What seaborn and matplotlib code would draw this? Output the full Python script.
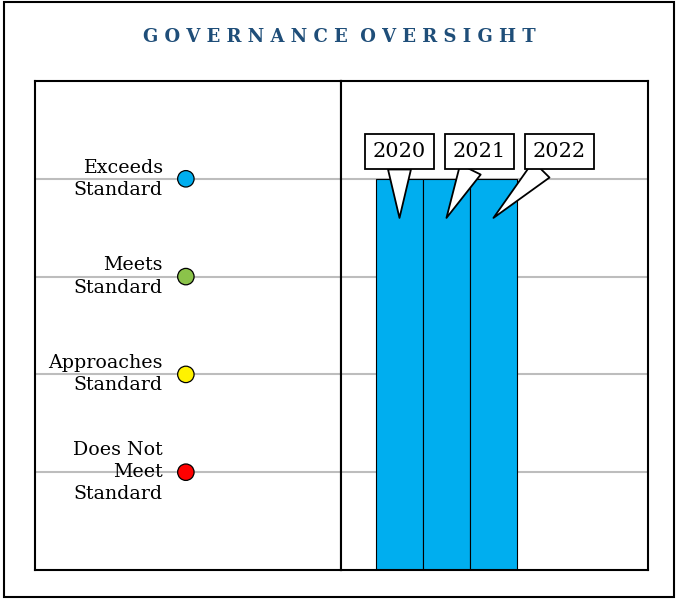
import matplotlib
matplotlib.use("Agg")
import matplotlib.pyplot as plt
import seaborn as sns
import pandas as pd
from matplotlib.patches import Rectangle

# rating scale shown on the left panel
levels = [1, 2, 3, 4]
level_labels = ["Does Not\nMeet\nStandard", "Approaches\nStandard", "Meets\nStandard", "Exceeds\nStandard"]
level_colors = ["#FF0000", "#FFF200", "#8BC34A", "#00AEEF"]

# yearly ratings shown on the right panel
years = ["2020", "2021", "2022"]
ratings = [4, 4, 4]
# where each callout label sits (x in bar units, y in rating units)
callout_x = [0.0, 1.7, 3.4]
callout_y = [4.28, 4.28, 4.28]
callout_tip = 3.6

sns.set_theme(style="white")
plt.rcParams["font.family"] = ["DejaVu Serif"]
plt.rcParams["text.color"] = "black"

fig = plt.figure(figsize=(6.78, 6.0), dpi=100)

# outer frame
fig.patches.append(Rectangle((4 / 678, 3 / 600), 670 / 678, 595 / 600, transform=fig.transFigure,
                             fill=False, ec="black", lw=1.5))

fig.text(0.5, 1 - 37 / 600, "  ".join(" ".join(w) for w in "GOVERNANCE OVERSIGHT".split()),
         ha="center", va="center", fontsize=13, fontweight="bold", color="#1F4E79")

bottom = 1 - 570 / 600
height = (570 - 81) / 600
ax_l = fig.add_axes([35 / 678, bottom, (341 - 35) / 678, height])
ax_r = fig.add_axes([341 / 678, bottom, (648 - 341) / 678, height])

# left panel: legend of rating levels
scale = pd.DataFrame({"x": [0.493] * 4, "level": levels, "label": level_labels})
for y in levels:
    ax_l.axhline(y, color="#BDBDBD", lw=1.5, zorder=0)
sns.scatterplot(data=scale, x="x", y="level", hue="label", palette=level_colors,
                s=140, edgecolor="black", linewidth=0.9, legend=False, ax=ax_l, zorder=3)
for y, lab in zip(levels, level_labels):
    ax_l.text(0.418, y, lab, ha="right", va="center", fontsize=13.7, linespacing=1.3,
              color="black", zorder=2)
ax_l.set_xlim(0, 1)
ax_l.set_ylim(0, 5)

# right panel: bars per year
df = pd.DataFrame({"year": years, "rating": ratings})
for y in levels:
    ax_r.axhline(y, color="#BDBDBD", lw=1.5, zorder=0)
sns.barplot(data=df, x="year", y="rating", color="#00AEEF", width=1.0, saturation=1,
            edgecolor="black", linewidth=0.8, ax=ax_r, zorder=2)
ax_r.set_xlim(-1.245, 5.29)
ax_r.set_ylim(0, 5)

for i, yr in enumerate(years):
    ax_r.annotate(yr, xy=(i, callout_tip), xytext=(callout_x[i], callout_y[i]),
                  ha="center", va="center", fontsize=15, color="black", zorder=5,
                  bbox=dict(boxstyle="square,pad=0.38", fc="white", ec="black", lw=1.3),
                  arrowprops=dict(arrowstyle="wedge,tail_width=1.1", fc="white", ec="black",
                                  lw=1.3, shrinkA=0, shrinkB=0))

for ax in (ax_l, ax_r):
    ax.set_xticks([])
    ax.set_yticks([])
    ax.set_xlabel("")
    ax.set_ylabel("")
    for s in ax.spines.values():
        s.set_visible(True)
        s.set_color("black")
        s.set_linewidth(1.5)

fig.savefig("out.png", dpi=100)
